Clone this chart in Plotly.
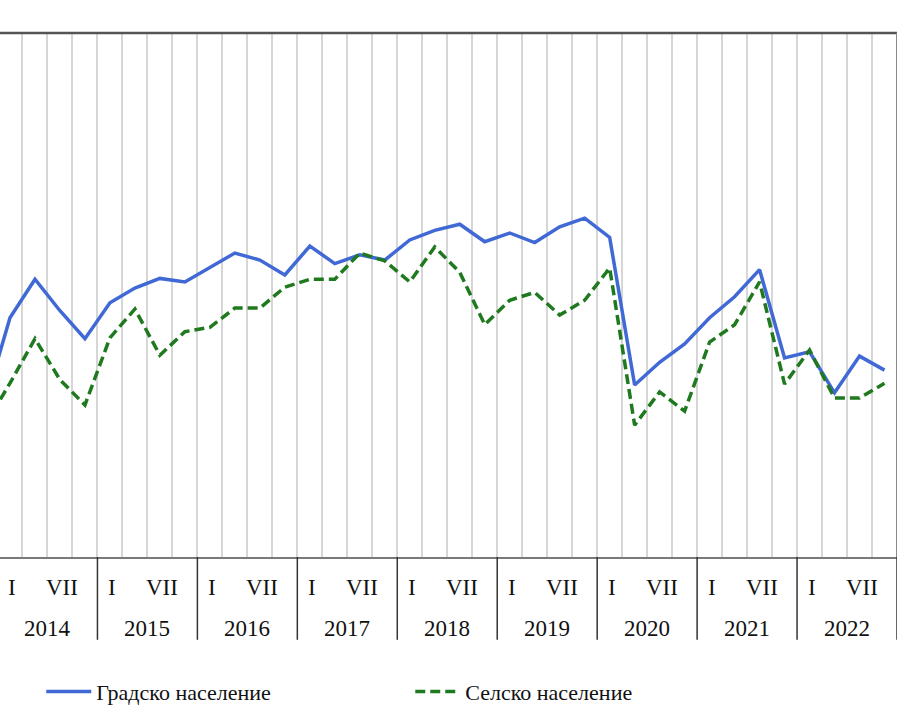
import plotly.graph_objects as go

# Quarters: last quarter of 2013 (partly visible at left edge), then 2014 I .. 2022 X
years = [2014, 2015, 2016, 2017, 2018, 2019, 2020, 2021, 2022]
quarter_labels = ["I", "IV", "VII", "X"]
shown_month_labels = ["I", "VII"]

urban = [-42.4,
         -32.6, -28.2, -31.8, -35.0,
         -30.9, -29.2, -28.1, -28.5,
         -26.8, -25.2, -26.0, -27.7,
         -24.4, -26.4, -25.4, -26.0,
         -23.7, -22.6, -21.9, -23.9,
         -22.9, -24.0, -22.2, -21.2,
         -23.4, -40.3, -37.7, -35.6,
         -32.6, -30.2, -27.1, -37.2,
         -36.5, -41.2, -37.0, -38.6]

rural = [-44.9,
         -40.1, -35.0, -39.7, -42.6,
         -34.9, -31.6, -36.9, -34.2,
         -33.7, -31.5, -31.5, -29.1,
         -28.2, -28.2, -25.2, -26.1,
         -28.5, -24.5, -27.4, -33.4,
         -30.6, -29.7, -32.3, -30.6,
         -26.9, -44.9, -41.1, -43.3,
         -35.4, -33.4, -28.5, -40.2,
         -36.3, -41.8, -41.8, -40.1]

series_names = ["Градско население", "Селско население"]

n = len(years) * 4
xs = list(range(-1, n))

SERIF = "Liberation Serif"

fig = go.Figure()
fig.add_trace(go.Scatter(x=xs, y=urban, mode="lines", name=series_names[0],
                         line=dict(color="#4169d6", width=3.5)))
fig.add_trace(go.Scatter(x=xs, y=rural, mode="lines", name=series_names[1],
                         line=dict(color="#1f7a1f", width=3.5, dash="10px,5px")))

annotations = []
shapes = []
font = dict(family=SERIF, size=23, color="#111")
for yi, yr in enumerate(years):
    base = yi * 4
    for m in shown_month_labels:
        q = quarter_labels.index(m)
        annotations.append(dict(x=base + q + 0.08, y=-0.059, xref="x", yref="paper",
                                text=m, showarrow=False, font=font,
                                xanchor="center", yanchor="middle"))
    annotations.append(dict(x=base + 1.5, y=-0.1355, xref="x", yref="paper",
                            text=str(yr), showarrow=False, font=font,
                            xanchor="center", yanchor="middle"))
    shapes.append(dict(type="line", xref="x", yref="paper",
                       x0=base + 3.5, x1=base + 3.5, y0=0, y1=-0.158,
                       line=dict(color="#333", width=1.5)))

# top border and right border
shapes.append(dict(type="line", xref="paper", yref="paper", x0=0, x1=1, y0=1, y1=1,
                   line=dict(color="#555", width=2.5)))
shapes.append(dict(type="line", xref="x", yref="paper", x0=n - 0.5, x1=n - 0.5, y0=0, y1=1,
                   line=dict(color="#8a8a8a", width=2)))

fig.update_layout(
    width=920, height=708,
    margin=dict(l=0, r=23, t=33, b=151, autoexpand=False),
    font=dict(family=SERIF, size=22, color="#111"),
    paper_bgcolor="white", plot_bgcolor="white",
    showlegend=True,
    legend=dict(orientation="h", x=0.046, y=-0.257, xanchor="left", yanchor="middle",
                entrywidth=309, entrywidthmode="pixels",
                font=dict(family=SERIF, size=22, color="#111"),
                itemwidth=45, bgcolor="rgba(0,0,0,0)"),
    xaxis=dict(range=[-0.4, n - 0.5], tickvals=[i + 0.5 for i in xs],
               showgrid=True, gridcolor="#d6d6d6", gridwidth=1.5,
               showticklabels=False, ticks="", zeroline=False,
               showline=True, linecolor="#7a7a7a", linewidth=1.5),
    yaxis=dict(range=[-60, 0], showgrid=False, showticklabels=False, ticks="",
               zeroline=False, showline=False),
    annotations=annotations,
    shapes=shapes,
)

fig.write_html("out.html")
